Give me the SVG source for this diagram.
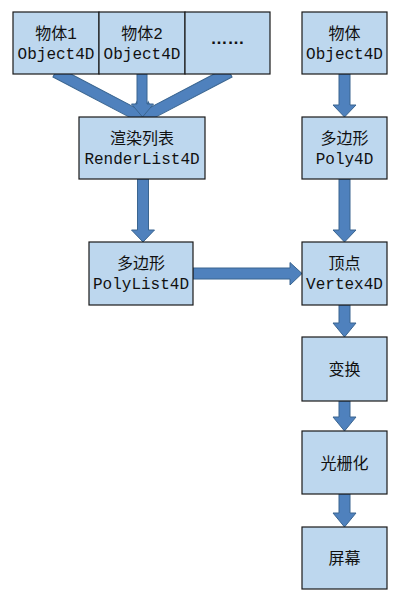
<svg xmlns="http://www.w3.org/2000/svg" width="408" height="602" viewBox="0 0 408 602">
<style>
.box{fill:#BDD7EE;stroke:#1a1a1a;stroke-width:1.2}
.arr{fill:#4F81BD;stroke:#3A6590;stroke-width:1}
.t{font-family:"Liberation Mono","Noto Sans CJK SC",monospace;font-size:16px;fill:#111;text-anchor:middle}
.dots{font-family:"Liberation Sans",sans-serif;font-size:17px;font-weight:bold;fill:#111;text-anchor:middle}
</style>
<rect width="408" height="602" fill="#fff"/>
<g id="connectors">
<polygon class="arr" transform="translate(55.5,72.1) rotate(27.7)" points="0,-5.5 85.8,-5.5 85.8,-11.5 98.8,0 85.8,11.5 85.8,5.5 0,5.5"/>
<polygon class="arr" transform="translate(229.5,72.1) rotate(152.3)" points="0,-5.5 85.8,-5.5 85.8,-11.5 98.8,0 85.8,11.5 85.8,5.5 0,5.5"/>
<polygon class="arr" points="137,74 147,74 147,104 153.5,104 142.5,117 131.5,104 137,104"/>
<polygon class="arr" points="137.5,179 148.5,179 148.5,230 154.5,230 143,242 131.5,230 137.5,230"/>
<polygon class="arr" points="193,268 290,268 290,262.5 302,273.5 290,285 290,279 193,279"/>
<polygon class="arr" points="339,74 350,74 350,105 356,105 344.5,117 333,105 339,105"/>
<polygon class="arr" points="339,179 350,179 350,230 356,230 344.5,242 333,230 339,230"/>
<polygon class="arr" points="339,305 350,305 350,323 356,323 344.5,337 333,323 339,323"/>
<polygon class="arr" points="339,401 350,401 350,417 356,417 344.5,431 333,417 339,417"/>
<polygon class="arr" points="339,494 350,494 350,513 356,513 344.5,527 333,513 339,513"/>
</g>
<g id="obj1">
<rect class="box" x="13" y="12" width="86" height="62"/>
<text class="t" x="56" y="39">物体1</text>
<text class="t" x="56" y="58.5">Object4D</text>
</g>
<g id="obj2">
<rect class="box" x="99" y="12" width="86" height="62"/>
<text class="t" x="142" y="39">物体2</text>
<text class="t" x="142" y="58.5">Object4D</text>
</g>
<g id="obj3">
<rect class="box" x="185" y="12" width="85" height="62"/>
<text class="dots" x="227.5" y="44">……</text>
</g>
<g id="renderlist">
<rect class="box" x="79" y="117" width="126" height="62"/>
<text class="t" x="142" y="144">渲染列表</text>
<text class="t" x="142" y="163.5">RenderList4D</text>
</g>
<g id="polylist">
<rect class="box" x="89" y="242" width="104" height="63"/>
<text class="t" x="141" y="269">多边形</text>
<text class="t" x="141" y="288.5">PolyList4D</text>
</g>
<g id="object">
<rect class="box" x="302" y="12" width="85" height="62"/>
<text class="t" x="344.5" y="39">物体</text>
<text class="t" x="344.5" y="58.5">Object4D</text>
</g>
<g id="poly">
<rect class="box" x="302" y="117" width="85" height="62"/>
<text class="t" x="344.5" y="144">多边形</text>
<text class="t" x="344.5" y="163.5">Poly4D</text>
</g>
<g id="vertex">
<rect class="box" x="302" y="242" width="85" height="63"/>
<text class="t" x="344.5" y="269">顶点</text>
<text class="t" x="344.5" y="288.5">Vertex4D</text>
</g>
<g id="transform">
<rect class="box" x="302" y="337" width="85" height="64"/>
<text class="t" x="344.5" y="375">变换</text>
</g>
<g id="raster">
<rect class="box" x="302" y="431" width="85" height="63"/>
<text class="t" x="344.5" y="468.5">光栅化</text>
</g>
<g id="screen">
<rect class="box" x="302" y="527" width="85" height="62"/>
<text class="t" x="344.5" y="564">屏幕</text>
</g>
</svg>
